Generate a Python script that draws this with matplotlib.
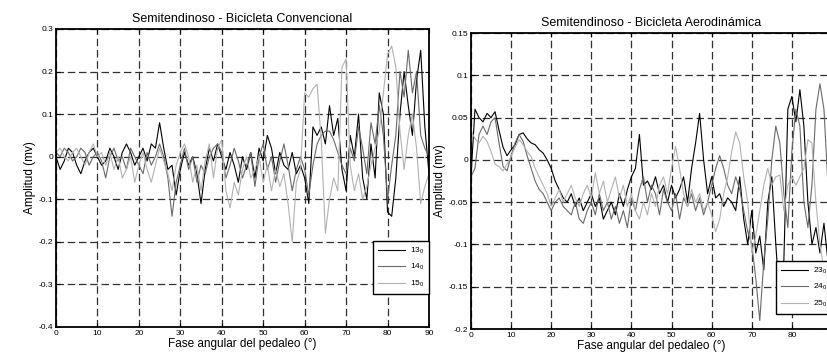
import numpy as np
import matplotlib
matplotlib.use("Agg")
import matplotlib.pyplot as plt
from matplotlib.ticker import FuncFormatter

plt.rcParams['font.family'] = ['Liberation Sans', 'DejaVu Sans']
plt.rcParams['mathtext.default'] = 'regular'

# --- data (mV), one value per degree of pedal phase ---
x_conv = np.arange(0, 91)
s13 = [0.00, -0.03, -0.01, 0.02, 0.01, -0.02, -0.04, -0.01, 0.01, 0.02,
       0.00, -0.02, -0.01, 0.02, 0.00, -0.03, 0.01, 0.03, 0.01, -0.02,
       0.00, 0.02, -0.01, 0.03, 0.02, 0.08, 0.02, -0.03, -0.02, -0.09,
       -0.03, 0.01, -0.02, 0.00, -0.04, -0.11, -0.03, 0.02, -0.01, 0.03,
       0.00, -0.03, 0.01, -0.02, -0.06, 0.00, -0.03, 0.01, -0.05, 0.02,
       -0.01, 0.05, 0.02, -0.04, 0.01, -0.02, -0.03, 0.01, -0.04, -0.02,
       -0.05, -0.11, 0.07, 0.05, 0.07, 0.03, 0.12, 0.05, 0.09, -0.03,
       -0.08, 0.05, 0.00, 0.10, -0.05, -0.10, 0.03, -0.05, 0.15, 0.10,
       -0.13, -0.14, -0.05, 0.10, 0.20, 0.12, 0.05, 0.18, 0.25, 0.07,
       -0.04]
s14 = [0.01, 0.00, 0.02, 0.01, -0.01, 0.00, 0.02, 0.01, -0.02, 0.00,
       0.01, -0.01, -0.05, 0.00, 0.02, -0.01, 0.00, -0.03, 0.02, 0.00,
       -0.02, -0.04, 0.01, -0.02, 0.00, 0.03, 0.00, -0.05, -0.14, -0.06,
       -0.02, 0.02, -0.03, 0.00, -0.06, -0.02, -0.04, 0.00, 0.02, 0.03,
       0.01, -0.05, -0.02, 0.02, -0.01, -0.05, -0.02, 0.01, -0.07, 0.00,
       0.03, -0.03, 0.00, -0.06, -0.01, 0.03, -0.02, -0.08, -0.03, 0.00,
       -0.03, -0.09, -0.02, 0.03, 0.05, 0.06, 0.06, 0.04, 0.01, -0.02,
       -0.04, 0.02, -0.01, 0.07, 0.02, -0.04, 0.08, 0.03, 0.12, 0.05,
       -0.10, -0.02, 0.05, 0.20, 0.14, 0.25, 0.15, 0.20, 0.05, 0.02,
       0.00]
s15 = [0.01, 0.02, 0.00, -0.01, 0.01, 0.02, 0.00, -0.02, 0.01, 0.03,
       0.00, 0.01, -0.02, 0.01, -0.03, 0.00, -0.05, -0.03, 0.00, -0.06,
       -0.02, 0.01, -0.03, -0.06, -0.02, 0.02, -0.01, -0.04, -0.08, -0.02,
       0.01, 0.03, 0.00, -0.06, -0.02, -0.08, -0.01, 0.03, -0.05, 0.02,
       0.04, -0.08, -0.12, -0.06, -0.09, -0.03, 0.00, -0.05, -0.03, 0.00,
       -0.06, -0.02, -0.08, -0.03, -0.07, -0.04, -0.11, -0.20, -0.06, -0.03,
       0.15, 0.14, 0.16, 0.17, 0.04, -0.18, -0.10, -0.05, -0.08, 0.21,
       0.23, -0.02, -0.08, -0.04, -0.10, -0.07, -0.02, 0.02, 0.06, 0.15,
       0.24, 0.26, 0.21, 0.06, -0.03, 0.05, 0.10, 0.02, -0.11, -0.07,
       -0.04]

x_aero = np.arange(0, 90)
s23 = [-0.02, 0.06, 0.05, 0.045, 0.055, 0.05, 0.057, 0.035, 0.015, 0.005,
       0.012, 0.018, 0.03, 0.032, 0.025, 0.02, 0.018, 0.012, 0.008, 0.0,
       -0.01, -0.025, -0.035, -0.045, -0.05, -0.04, -0.055, -0.045, -0.06, -0.05,
       -0.04, -0.055, -0.045, -0.07, -0.06, -0.05, -0.065, -0.04, -0.055, -0.035,
       -0.02, -0.01, 0.03, -0.03, -0.025, -0.035, -0.02, -0.04, -0.03, -0.05,
       -0.03, -0.045, -0.035, -0.02, -0.05, -0.01, 0.02, 0.055, 0.0, -0.04,
       -0.02, -0.045, -0.04, -0.055, -0.045, -0.05, -0.06, -0.02, -0.07, -0.1,
       -0.06, -0.11, -0.09, -0.13, -0.05, -0.02, -0.1, -0.17, -0.12, 0.06,
       0.075, 0.045, 0.083, 0.04, -0.05, -0.1, -0.08, -0.11, -0.075, -0.12]
s24 = [-0.02, -0.01, 0.03, 0.04, 0.03, 0.045, 0.05, 0.02, -0.008, -0.013,
       0.005, 0.02, 0.03, 0.022, 0.005, -0.01, -0.025, -0.035, -0.04, -0.05,
       -0.06, -0.05, -0.045, -0.055, -0.06, -0.065, -0.05, -0.07, -0.075, -0.06,
       -0.05, -0.065, -0.04, -0.06, -0.05, -0.07, -0.055, -0.075, -0.06, -0.08,
       -0.045, -0.06, -0.035, -0.02, -0.05, -0.03, -0.04, -0.065, -0.035, -0.05,
       -0.06, -0.04, -0.07, -0.045, -0.055, -0.04, -0.06, -0.045, -0.065, -0.05,
       -0.03, -0.01, 0.005, -0.01, -0.03, -0.04, -0.02, -0.035, -0.06, -0.085,
       -0.1, -0.14, -0.19, -0.12, -0.07, 0.0, 0.04, 0.02, -0.04, -0.08,
       0.01, 0.06, 0.04, -0.05, -0.08, -0.03, 0.06, 0.09, 0.06, -0.03]
s25 = [0.035, 0.025, 0.02, 0.028, 0.022, 0.01, -0.005, -0.008, -0.013, -0.005,
       0.004, 0.015, 0.024, 0.018, 0.01, 0.004, -0.01, -0.02, -0.03, -0.04,
       -0.055, -0.045, -0.035, -0.05, -0.04, -0.03, -0.045, -0.055, -0.04, -0.03,
       -0.045, -0.015, -0.04, -0.025, -0.05, -0.035, -0.02, -0.045, -0.03, -0.055,
       -0.04, -0.06, -0.07, -0.05, -0.065, -0.04, -0.055, -0.03, -0.02, -0.04,
       -0.01, 0.016, -0.01, -0.04, -0.055, -0.035, -0.05, -0.04, -0.06, -0.05,
       -0.065, -0.085, -0.07, -0.04, -0.02, 0.01, 0.033, 0.02, -0.02, -0.05,
       -0.11, -0.09, -0.06, -0.03, -0.01, -0.03, -0.02, -0.018, -0.06, -0.03,
       -0.02, -0.03, -0.02, -0.01, 0.024, 0.02, -0.05, -0.1, -0.13, -0.15]

labels_conv = ['13$_0$', '14$_0$', '15$_0$']
labels_aero = ['23$_0$', '24$_0$', '25$_0$']
colors = ['#000000', '#6a6a6a', '#b2b2b2']

fig = plt.figure(figsize=(8.28, 3.54), dpi=100)
ax1 = fig.add_axes([0.0676, 0.0763, 0.4505, 0.8418])
# the right panel runs past the picture edge, as in the original crop
ax2 = fig.add_axes([0.5688, 0.0706, 0.436, 0.836])


def fmt(v, pos):
    v = round(v, 3)
    if v == 0:
        return '0'
    return '%g' % v


def style(ax, ylim, ystep, title):
    ax.set_xlim(0, 90)
    ax.set_ylim(*ylim)
    ax.set_xticks(np.arange(0, 91, 10))
    ax.set_yticks(np.arange(ylim[0], ylim[1] + ystep / 2, ystep))
    ax.xaxis.set_major_formatter(FuncFormatter(fmt))
    ax.yaxis.set_major_formatter(FuncFormatter(fmt))
    ax.tick_params(direction='in', length=3, width=0.8, labelsize=6,
                   top=True, right=True, pad=2)
    ax.grid(True, color='#303030', linestyle=(0, (6, 3)), linewidth=0.9)
    for sp in ax.spines.values():
        sp.set_linewidth(1.3)
    ax.set_title(title, fontsize=9, pad=5)
    ax.set_xlabel('Fase angular del pedaleo (°)', fontsize=8.5, labelpad=1)
    ax.set_ylabel('Amplitud (mv)', fontsize=8.5, labelpad=2)


for s, lab, c in zip([s13, s14, s15], labels_conv, colors):
    ax1.plot(x_conv, s, color=c, linewidth=0.8, label=lab)
for s, lab, c in zip([s23, s24, s25], labels_aero, colors):
    ax2.plot(x_aero, s, color=c, linewidth=0.8, label=lab)

style(ax1, (-0.4, 0.3), 0.1, 'Semitendinoso - Bicicleta Convencional')
style(ax2, (-0.2, 0.15), 0.05, 'Semitendinoso - Bicicleta Aerodinámica')

# "90" of the right panel falls outside the picture
ax2.get_xticklabels()[-1].set_visible(False)

for ax, yb in [(ax1, 0.111), (ax2, 0.051)]:
    leg = ax.legend(loc='lower right', bbox_to_anchor=(1.0, yb), fontsize=6,
                    frameon=True, fancybox=False, borderaxespad=0,
                    handlelength=3.2, labelspacing=0.75, borderpad=0.6,
                    handletextpad=0.6)
    leg.get_frame().set_edgecolor('black')
    leg.get_frame().set_linewidth(1.0)
    leg.get_frame().set_alpha(1)

fig.savefig('out.png', dpi=100)
